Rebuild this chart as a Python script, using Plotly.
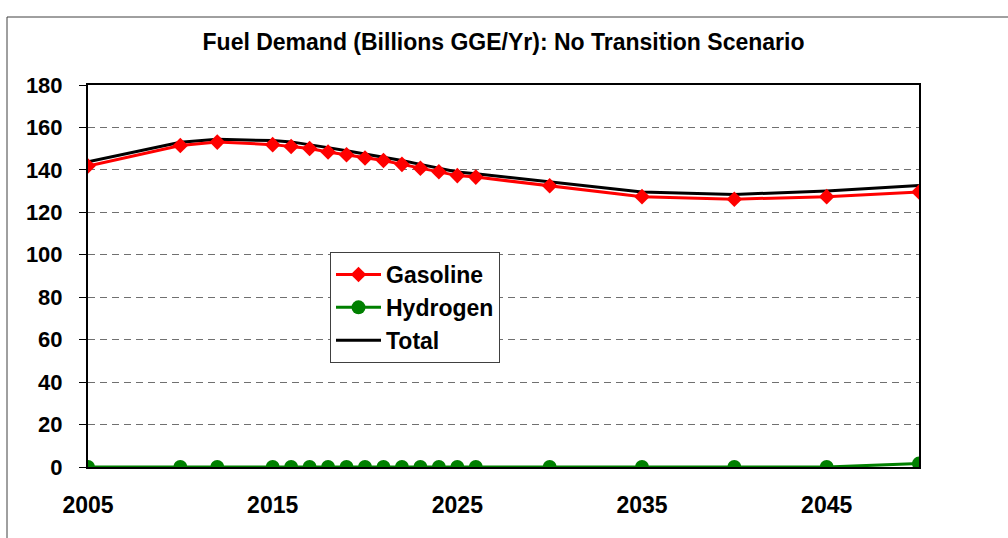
import plotly.graph_objects as go

years = [2005, 2010, 2012, 2015, 2016, 2017, 2018, 2019, 2020, 2021, 2022,
         2023, 2024, 2025, 2026, 2030, 2035, 2040, 2045, 2050]
gasoline = [141.8, 151.5, 153.1, 151.9, 151.0, 150.1, 148.4, 147.1, 145.6, 144.4,
            142.6, 140.8, 139.1, 137.3, 136.6, 132.5, 127.4, 126.2, 127.4, 129.6]
hydrogen = [0, 0, 0, 0, 0, 0, 0, 0, 0, 0, 0, 0, 0, 0, 0, 0, 0, 0, 0, 1.6]
total = [143.8, 153.0, 154.4, 153.8, 153.2, 152.0, 150.5, 149.0, 147.5, 146.0,
         144.4, 142.6, 140.9, 139.0, 138.2, 134.5, 129.6, 128.4, 130.1, 132.6]

x_ticks = [2005, 2015, 2025, 2035, 2045]
y_ticks = [0, 20, 40, 60, 80, 100, 120, 140, 160, 180]

FONT = "Liberation Sans, Arial, sans-serif"

fig = go.Figure()
fig.add_trace(go.Scatter(
    x=years, y=total, name="Total", mode="lines",
    line=dict(color="black", width=3),
    legendgroup="c", legendrank=3))
fig.add_trace(go.Scatter(
    x=years, y=gasoline, name="Gasoline", mode="lines+markers",
    line=dict(color="#ff0000", width=3),
    marker=dict(symbol="diamond", size=12, color="#ff0000"),
    legendgroup="a", legendrank=1))
fig.add_trace(go.Scatter(
    x=years, y=hydrogen, name="Hydrogen", mode="lines+markers",
    line=dict(color="#008000", width=3),
    marker=dict(symbol="circle", size=14, color="#008000"),
    legendgroup="b", legendrank=2))

fig.update_layout(
    width=1008, height=538,
    margin=dict(l=88, r=89, t=85, b=71),
    paper_bgcolor="white", plot_bgcolor="white",
    font=dict(family=FONT, color="black", size=22),
    title=dict(text="Fuel Demand (Billions GGE/Yr): No Transition Scenario",
               x=0.5, xref="paper", xanchor="center",
               y=1 - 42 / 538, yanchor="middle",
               font=dict(family=FONT, size=23, weight="bold", color="black")),
    showlegend=True,
    legend=dict(x=(330 - 88) / 831, y=(467 - 252) / 382,
                xanchor="left", yanchor="top",
                bgcolor="white", bordercolor="#404040", borderwidth=1,
                font=dict(family=FONT, size=23, weight="bold", color="black"),
                tracegroupgap=10, itemwidth=45, traceorder="normal",
                entrywidth=178, entrywidthmode="pixels"),
    shapes=[dict(type="rect", xref="paper", yref="paper",
                 x0=(7 - 88) / 831, x1=1.3, y0=-0.3, y1=(467 - 17) / 382,
                 line=dict(color="#404040", width=1), fillcolor="rgba(0,0,0,0)",
                 layer="below")],
)

fig.update_xaxes(
    range=[2005, 2050], tickvals=x_ticks, ticktext=[str(v) for v in x_ticks],
    showgrid=False, zeroline=False,
    showline=True, linecolor="black", linewidth=2, mirror=True,
    ticks="", ticklabelstandoff=16,
    tickfont=dict(family=FONT, size=23, weight="bold", color="black"),
)
fig.update_yaxes(
    range=[0, 180], tickvals=y_ticks, ticktext=[str(v) for v in y_ticks],
    showgrid=True, gridcolor="#707070", gridwidth=1, griddash="7px,5px",
    zeroline=False,
    showline=True, linecolor="black", linewidth=2, mirror=True,
    ticks="outside", ticklen=7, tickcolor="black", tickwidth=1,
    ticklabelstandoff=12,
    tickfont=dict(family=FONT, size=22, weight="bold", color="black"),
)

fig.write_html("out.html", config={"displayModeBar": False},
               post_script="document.body.style.margin='0';")
